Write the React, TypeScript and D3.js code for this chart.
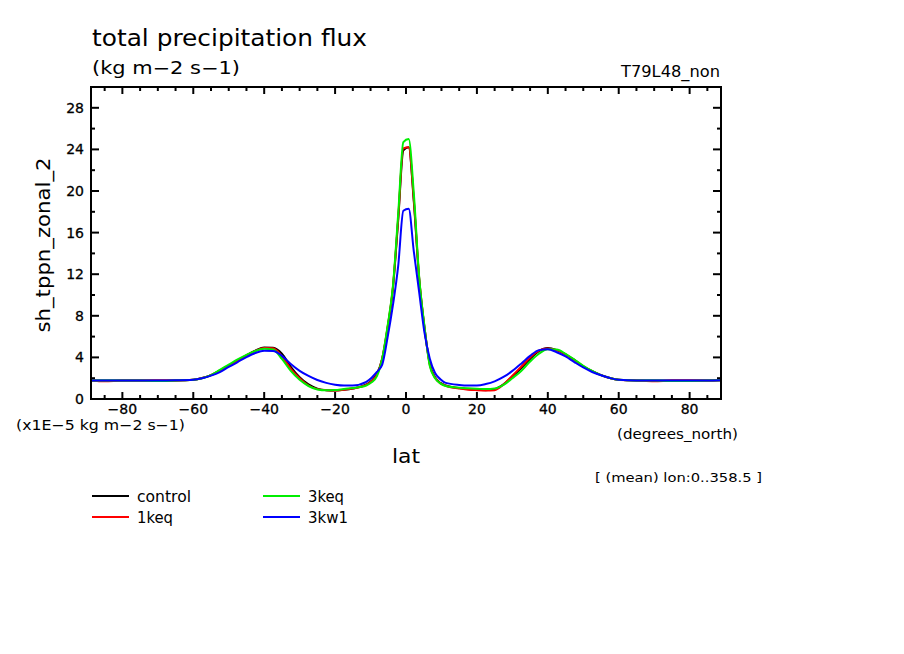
import React, { useEffect, useRef } from 'react';
import * as d3 from 'd3';

// latitudes (degrees_north) shared by all series
const lats: number[] = [
  -88.85, -85, -80, -75, -70, -65, -60, -57.5, -55, -52.5, -50, -47.5, -45, -42.5, -40, -37.5,
  -35, -32.5, -30, -27.5, -25, -22.5, -20, -17.5, -15, -11.2, -9.7, -8.2, -6.7, -5.2, -3.7, -2.2,
  -0.75, 0.75, 2.2, 3.7, 5.2, 6.7, 8.2, 9.7, 11.2, 15, 17.5, 20, 22.5, 25, 27.5, 30, 32.5, 35,
  37.5, 40, 42.5, 45, 47.5, 50, 52.5, 55, 57.5, 60, 65, 70, 75, 80, 85, 88.85,
];

// values in units of 1E-5 kg m-2 s-1
const control: number[] = [
  1.78, 1.78, 1.78, 1.78, 1.78, 1.79, 1.85, 2.02, 2.3, 2.75, 3.2, 3.72, 4.2, 4.65, 4.95, 4.92,
  4.35, 3.1, 2.1, 1.4, 1.0, 0.85, 0.82, 0.88, 1.0, 1.4, 1.75, 2.4, 3.9, 6.8, 10.6, 17.2,
  23.9, 24.2, 19.0, 11.6, 6.9, 3.4, 2.1, 1.55, 1.3, 1.05, 0.95, 0.88, 0.85, 0.95, 1.4, 2.15, 2.95, 3.85,
  4.6, 4.9, 4.7, 4.3, 3.75, 3.15, 2.68, 2.3, 2.02, 1.85, 1.78, 1.78, 1.78, 1.78, 1.78, 1.8,
];

const keq1: number[] = [
  1.78, 1.7, 1.78, 1.78, 1.78, 1.79, 1.85, 2.02, 2.3, 2.75, 3.2, 3.7, 4.2, 4.62, 4.9, 4.88,
  4.1, 2.9, 2.0, 1.3, 0.95, 0.85, 0.82, 0.9, 1.02, 1.35, 1.7, 2.35, 3.9, 6.9, 10.7, 17.4,
  24.1, 24.2, 19.2, 11.7, 6.9, 3.3, 2.05, 1.5, 1.28, 1.0, 0.9, 0.85, 0.82, 0.85, 1.4, 2.25, 3.1, 4.0,
  4.65, 4.85, 4.7, 4.3, 3.75, 3.15, 2.68, 2.3, 2.02, 1.85, 1.78, 1.7, 1.78, 1.78, 1.78, 1.8,
];

const keq3: number[] = [
  1.78, 1.78, 1.78, 1.78, 1.72, 1.78, 1.85, 2.0, 2.3, 2.81, 3.3, 3.8, 4.25, 4.62, 4.82, 4.75,
  3.85, 2.7, 1.85, 1.25, 0.92, 0.84, 0.86, 0.97, 1.05, 1.3, 1.6, 2.2, 3.9, 7.0, 10.8, 17.8,
  24.7, 25.0, 19.8, 11.8, 7.0, 3.2, 2.0, 1.5, 1.25, 1.08, 1.03, 0.99, 0.95, 1.0, 1.35, 2.0, 2.7, 3.6,
  4.35, 4.78, 4.75, 4.35, 3.8, 3.2, 2.7, 2.3, 2.02, 1.85, 1.78, 1.78, 1.72, 1.74, 1.78, 1.8,
];

const kw1: number[] = [
  1.78, 1.78, 1.78, 1.78, 1.78, 1.8, 1.85, 2.0, 2.25, 2.59, 3.08, 3.55, 4.03, 4.42, 4.63, 4.62,
  4.15, 3.37, 2.71, 2.22, 1.83, 1.55, 1.38, 1.3, 1.3, 1.65, 2.05, 2.6, 3.3, 5.9, 9.0, 12.8,
  18.1, 18.3, 14.2, 10.3, 6.4, 3.9, 2.5, 1.9, 1.55, 1.35, 1.3, 1.3, 1.44, 1.7, 2.12, 2.7, 3.4, 4.15,
  4.7, 4.78, 4.5, 4.1, 3.55, 3.03, 2.6, 2.28, 2.02, 1.84, 1.78, 1.78, 1.78, 1.78, 1.78, 1.8,
];

const seriesNames: string[] = ['control', '1keq', '3keq', '3kw1'];
const seriesColors: string[] = ['#000000', '#ff0000', '#00ee00', '#0000ff'];
const seriesValues: number[][] = [control, keq1, keq3, kw1];

const xTicks: number[] = [-80, -60, -40, -20, 0, 20, 40, 60, 80];
const yTicks: number[] = [0, 4, 8, 12, 16, 20, 24, 28];

const FONT = '"DejaVu Sans", sans-serif';

const App: React.FC = () => {
  const svgRef = useRef<SVGSVGElement | null>(null);

  useEffect(() => {
    const svg = d3.select(svgRef.current);
    svg.selectAll('*').remove();

    const left = 91;
    const right = 721;
    const top = 87;
    const bottom = 399;

    const x = d3.scaleLinear().domain([-88.85, 88.85]).range([left, right]);
    const y = d3.scaleLinear().domain([0, 30]).range([bottom, top]);

    const g = svg.append('g').attr('font-family', FONT).attr('fill', '#000');

    // ticks, drawn inward on all four sides
    const ticks = g.append('g').attr('stroke', '#000').attr('stroke-width', 2);
    d3.range(-85, 90, 5).forEach((v) => {
      const len = v % 20 === 0 ? 7 : 4;
      ticks.append('line').attr('x1', x(v)).attr('x2', x(v)).attr('y1', bottom).attr('y2', bottom - len);
      ticks.append('line').attr('x1', x(v)).attr('x2', x(v)).attr('y1', top).attr('y2', top + len);
    });
    d3.range(0, 31, 2).forEach((v) => {
      const len = v % 4 === 0 ? 8 : 4;
      ticks.append('line').attr('x1', left).attr('x2', left + len).attr('y1', y(v)).attr('y2', y(v));
      ticks.append('line').attr('x1', right).attr('x2', right - len).attr('y1', y(v)).attr('y2', y(v));
    });

    // lines
    const line = d3
      .line<number>()
      .x((_, i) => x(lats[i]))
      .y((d) => y(d))
      .curve(d3.curveMonotoneX);

    seriesValues.forEach((vals, i) => {
      g.append('path')
        .datum(vals)
        .attr('d', line)
        .attr('fill', 'none')
        .attr('stroke', seriesColors[i])
        .attr('stroke-width', 2);
    });

    // frame
    g.append('rect')
      .attr('x', left)
      .attr('y', top)
      .attr('width', right - left)
      .attr('height', bottom - top)
      .attr('fill', 'none')
      .attr('stroke', '#000')
      .attr('stroke-width', 2);

    // tick labels
    g.selectAll('.xl')
      .data(xTicks)
      .enter()
      .append('text')
      .attr('x', (d) => x(d))
      .attr('y', 414)
      .attr('text-anchor', 'middle')
      .attr('font-size', 14)
      .attr('stroke', '#000')
      .attr('stroke-width', 0.3)
      .text((d) => (d < 0 ? `\u2212${-d}` : `${d}`));

    g.selectAll('.yl')
      .data(yTicks)
      .enter()
      .append('text')
      .attr('x', 84)
      .attr('y', (d) => y(d) + 5)
      .attr('text-anchor', 'end')
      .attr('font-size', 14)
      .attr('stroke', '#000')
      .attr('stroke-width', 0.3)
      .text((d) => `${d}`);

    // titles and labels, stretched to the reference widths
    const text = (s: string, tx: number, ty: number, size: number, len: number, anchor = 'start') =>
      g
        .append('text')
        .attr('x', tx)
        .attr('y', ty)
        .attr('font-size', size)
        .attr('text-anchor', anchor)
        .attr('textLength', len)
        .attr('lengthAdjust', 'spacingAndGlyphs')
        .text(s);

    text('total precipitation flux', 92, 46, 23, 275);
    text('(kg m\u22122 s\u22121)', 92, 74, 17, 148);
    text('T79L48_non', 720, 77, 15, 99, 'end');
    text('(x1E\u22125 kg m\u22122 s\u22121)', 16, 430, 14, 169);
    text('(degrees_north)', 617, 439, 14, 121);
    text('lat', 406, 463, 20, 28, 'middle');
    text('[ (mean) lon:0..358.5 ]', 595, 482, 13, 167);

    g.append('text')
      .attr('transform', 'translate(50,245) rotate(-90)')
      .attr('text-anchor', 'middle')
      .attr('font-size', 20)
      .attr('textLength', 175)
      .attr('lengthAdjust', 'spacingAndGlyphs')
      .text('sh_tppn_zonal_2');

    // legend
    const legendWidths: number[] = [54, 36, 36, 40];
    seriesNames.forEach((name, i) => {
      const lx = i < 2 ? 92 : 263;
      const ly = i % 2 === 0 ? 496 : 517;
      g.append('line')
        .attr('x1', lx)
        .attr('x2', lx + 37)
        .attr('y1', ly)
        .attr('y2', ly)
        .attr('stroke', seriesColors[i])
        .attr('stroke-width', 2);
      text(name, lx + 45, ly + 6, 15, legendWidths[i]);
    });
  }, []);

  return (
    <div style={{ position: 'absolute', left: 0, top: 0 }}>
      <svg ref={svgRef} width={904} height={654} style={{ display: 'block', background: '#fff' }}></svg>
    </div>
  );
};

export default App;
